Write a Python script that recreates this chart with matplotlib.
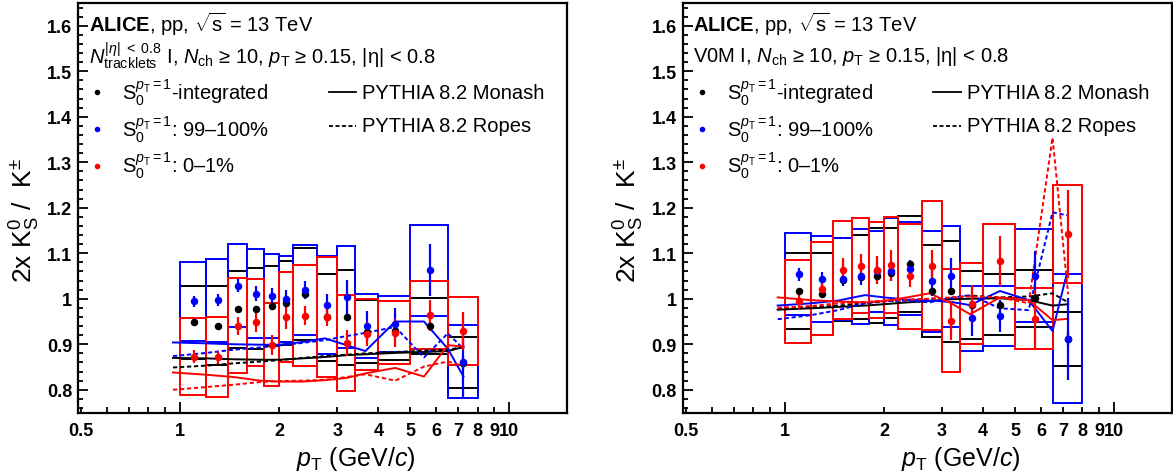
import matplotlib
matplotlib.use("Agg")
import matplotlib.pyplot as plt
from matplotlib.patches import Rectangle
from matplotlib.ticker import FixedLocator, FixedFormatter, MultipleLocator, FormatStrFormatter

plt.rcParams['font.family'] = ['Liberation Sans', 'DejaVu Sans']
plt.rcParams['mathtext.fontset'] = 'custom'
plt.rcParams['mathtext.rm'] = 'Liberation Sans'
plt.rcParams['mathtext.it'] = 'Liberation Sans:italic'
plt.rcParams['mathtext.bf'] = 'Liberation Sans:bold'
plt.rcParams['mathtext.sf'] = 'Liberation Sans'

# pT binning of the data
pt_edges = [1.0, 1.2, 1.4, 1.6, 1.8, 2.0, 2.2, 2.6, 3.0, 3.4, 4.0, 5.0, 6.5, 8.0]
pt_centers = [1.1, 1.3, 1.5, 1.7, 1.9, 2.1, 2.4, 2.8, 3.2, 3.7, 4.5, 5.75, 7.25]

# ---- left panel: N_tracklets estimator ----
trk_int = [0.948, 0.941, 0.977, 0.978, 0.984, 0.991, 1.011, 0.959, 0.959, 0.928, 0.930, 0.940, 0.859]
trk_int_stat = [0.004, 0.004, 0.004, 0.004, 0.005, 0.005, 0.005, 0.006, 0.007, 0.007, 0.008, 0.01, 0.015]
trk_int_sys = [0.080, 0.087, 0.085, 0.089, 0.088, 0.093, 0.101, 0.096, 0.104, 0.070, 0.064, 0.061, 0.056]

trk_hi = [0.994, 0.997, 1.029, 1.011, 1.006, 1.000, 1.019, 0.986, 1.004, 0.940, 0.944, 1.063, 0.862]
trk_hi_stat = [0.013, 0.013, 0.015, 0.016, 0.018, 0.02, 0.02, 0.025, 0.038, 0.033, 0.035, 0.058, 0.08]
trk_hi_sys = [0.087, 0.091, 0.092, 0.098, 0.092, 0.094, 0.099, 0.107, 0.113, 0.070, 0.061, 0.100, 0.081]

trk_lo = [0.873, 0.871, 0.941, 0.948, 0.899, 0.959, 0.963, 0.960, 0.903, 0.922, 0.925, 0.964, 0.929]
trk_lo_stat = [0.015, 0.015, 0.02, 0.022, 0.022, 0.025, 0.02, 0.02, 0.028, 0.026, 0.03, 0.034, 0.042]
trk_lo_sys = [0.084, 0.088, 0.104, 0.095, 0.091, 0.099, 0.111, 0.131, 0.106, 0.078, 0.069, 0.075, 0.075]

# ---- right panel: V0M estimator ----
v0m_int = [1.017, 1.010, 1.042, 1.048, 1.051, 1.057, 1.076, 1.017, 1.016, 0.986, 0.987, 1.001, 0.912]
v0m_int_stat = [0.004, 0.004, 0.004, 0.004, 0.005, 0.005, 0.005, 0.006, 0.007, 0.007, 0.008, 0.01, 0.015]
v0m_int_sys = [0.083, 0.090, 0.091, 0.092, 0.104, 0.099, 0.106, 0.101, 0.110, 0.074, 0.067, 0.063, 0.060]

v0m_hi = [1.054, 1.043, 1.043, 1.049, 1.060, 1.060, 1.066, 1.038, 1.049, 0.957, 0.962, 1.051, 0.912]
v0m_hi_stat = [0.014, 0.016, 0.016, 0.018, 0.021, 0.02, 0.02, 0.033, 0.04, 0.038, 0.035, 0.055, 0.09]
v0m_hi_sys = [0.090, 0.095, 0.090, 0.104, 0.090, 0.117, 0.102, 0.112, 0.111, 0.072, 0.066, 0.102, 0.142]

v0m_lo = [0.994, 1.022, 1.063, 1.073, 1.063, 1.074, 1.049, 1.073, 0.952, 0.989, 1.083, 0.956, 1.142]
v0m_lo_stat = [0.016, 0.02, 0.026, 0.025, 0.03, 0.034, 0.024, 0.035, 0.042, 0.042, 0.055, 0.064, 0.097]
v0m_lo_sys = [0.092, 0.102, 0.108, 0.104, 0.106, 0.106, 0.115, 0.142, 0.114, 0.089, 0.081, 0.067, 0.108]

# ---- PYTHIA 8.2 curves ----
mc_pt = [0.95, 1.2, 1.45, 1.75, 2.0, 2.35, 2.75, 3.2, 3.65, 4.5, 5.5, 6.5, 7.25]

trk_monash_int = [0.870, 0.869, 0.867, 0.866, 0.866, 0.869, 0.872, 0.876, 0.878, 0.881, 0.883, 0.885, 0.894]
trk_ropes_int = [0.849, 0.853, 0.858, 0.862, 0.865, 0.870, 0.874, 0.877, 0.880, 0.883, 0.886, 0.888, 0.894]
trk_monash_hi = [0.904, 0.902, 0.900, 0.899, 0.899, 0.905, 0.913, 0.898, 0.885, 0.950, 0.950, 0.890, 0.829]
trk_ropes_hi = [0.874, 0.881, 0.888, 0.893, 0.897, 0.903, 0.909, 0.918, 0.925, 0.938, 0.871, 0.924, 0.890]
trk_monash_lo = [0.838, 0.833, 0.828, 0.820, 0.818, 0.818, 0.821, 0.826, 0.836, 0.848, 0.829, 0.898, 0.895]
trk_ropes_lo = [0.800, 0.806, 0.811, 0.817, 0.819, 0.820, 0.822, 0.828, 0.834, 0.820, 0.851, 0.862, 0.852]

v0m_monash_int = [0.976, 0.979, 0.982, 0.985, 0.988, 0.992, 0.995, 0.999, 1.000, 1.001, 0.997, 0.985, 0.988]
v0m_ropes_int = [0.978, 0.981, 0.985, 0.990, 0.994, 0.997, 1.000, 1.002, 1.007, 1.003, 1.005, 1.012, 0.992]
v0m_monash_hi = [0.985, 0.990, 0.996, 1.008, 1.003, 0.998, 0.996, 0.993, 0.986, 1.017, 0.997, 0.929, 1.067]
v0m_ropes_hi = [0.955, 0.964, 0.975, 0.990, 0.995, 0.996, 0.992, 1.002, 1.008, 0.979, 0.975, 1.190, 1.183]
v0m_monash_lo = [1.003, 0.997, 0.994, 0.992, 0.995, 1.003, 1.012, 0.990, 0.966, 1.003, 0.997, 0.953, 0.956]
v0m_ropes_lo = [0.980, 0.984, 0.990, 0.993, 0.996, 0.998, 1.000, 1.003, 1.005, 1.003, 0.990, 1.354, 1.010]

BLUE = '#0000ff'
RED = '#ff0000'
BLACK = '#000000'
DASH = (0, (2.2, 1.4))
FS = 14.5


def draw_panel(ax, data, models, header2):
    # systematic boxes
    for vals, stat, sys_, col in data:
        for i in range(len(vals)):
            lo_e, hi_e = pt_edges[i], pt_edges[i + 1]
            ax.add_patch(Rectangle((lo_e, vals[i] - sys_[i]), hi_e - lo_e, 2 * sys_[i],
                                   fill=False, ec=col, lw=1.4, zorder=2))
    # model curves
    for yv, col, ls in models:
        ax.plot(mc_pt, yv, color=col, lw=1.4, ls=ls, zorder=3)
    # data points
    for vals, stat, sys_, col in data:
        ax.errorbar(pt_centers, vals, yerr=stat, fmt='o', ms=4.4, color=col,
                    elinewidth=1.6, capsize=0, zorder=4)

    ax.set_xscale('log')
    ax.set_xlim(0.49, 15)
    ax.set_ylim(0.75, 1.65)

    ax.xaxis.set_major_locator(FixedLocator([1, 10]))
    ax.xaxis.set_major_formatter(FixedFormatter(['1', '10']))
    minor = [0.5, 0.6, 0.7, 0.8, 0.9, 2, 3, 4, 5, 6, 7, 8, 9]
    minor_lab = ['0.5', '', '', '', '', '2', '3', '4', '5', '6', '7', '8', '9']
    ax.xaxis.set_minor_locator(FixedLocator(minor))
    ax.xaxis.set_minor_formatter(FixedFormatter(minor_lab))
    ax.yaxis.set_major_locator(MultipleLocator(0.1))
    ax.yaxis.set_minor_locator(MultipleLocator(0.02))
    ax.yaxis.set_major_formatter(FormatStrFormatter('%g'))
    ax.set_yticks([0.8, 0.9, 1.0, 1.1, 1.2, 1.3, 1.4, 1.5, 1.6])

    ax.tick_params(axis='x', which='major', direction='in', length=8, width=1.3, pad=6.5,
                   labelsize=13)
    ax.tick_params(axis='x', which='minor', direction='in', length=4, width=1.3, pad=6.5,
                   labelsize=13)
    ax.tick_params(axis='y', which='major', direction='in', length=7, width=1.3, pad=4.5,
                   labelsize=13)
    ax.tick_params(axis='y', which='minor', direction='in', length=3.5, width=1.3)
    for lab in ax.get_xticklabels(which='both') + ax.get_yticklabels():
        lab.set_fontweight('bold')
    for sp in ax.spines.values():
        sp.set_linewidth(1.6)

    ax.text(0.568, -0.11, r'$p_{\mathrm{T}}$ (GeV/$c$)', transform=ax.transAxes,
            ha='center', va='center', fontsize=18)
    ax.text(-0.11, 0.47, r'2x K$_{\mathrm{S}}^{0}$ /  K$^{\pm}$', transform=ax.transAxes,
            ha='center', va='center', rotation=90, fontsize=19)

    ax.text(0.021, 0.949, r'$\mathbf{ALICE}$, pp, $\sqrt{\mathrm{s}}$ = 13 TeV',
            transform=ax.transAxes, ha='left', va='center', fontsize=FS)
    ax.text(0.021, 0.871, header2, transform=ax.transAxes, ha='left', va='center',
            fontsize=FS)

    leg_y = [0.782, 0.692, 0.603]
    leg_txt = [r'$\mathrm{S}_{0}^{p_{\mathrm{T}}=1}$-integrated',
               r'$\mathrm{S}_{0}^{p_{\mathrm{T}}=1}$: 99–100%',
               r'$\mathrm{S}_{0}^{p_{\mathrm{T}}=1}$: 0–1%']
    for yy, txt, col in zip(leg_y, leg_txt, [BLACK, BLUE, RED]):
        ax.plot([0.039], [yy], 'o', ms=3, color=col, transform=ax.transAxes)
        ax.text(0.09, yy, txt, transform=ax.transAxes, ha='left', va='center', fontsize=FS)
    ax.plot([0.512, 0.568], [0.782, 0.782], color=BLACK, lw=1.3, transform=ax.transAxes)
    ax.plot([0.512, 0.568], [0.700, 0.700], color=BLACK, lw=1.3, ls=DASH,
            transform=ax.transAxes)
    ax.text(0.58, 0.782, 'PYTHIA 8.2 Monash', transform=ax.transAxes, ha='left',
            va='center', fontsize=FS)
    ax.text(0.58, 0.700, 'PYTHIA 8.2 Ropes', transform=ax.transAxes, ha='left',
            va='center', fontsize=FS)


fig = plt.figure(figsize=(11.73, 4.77), dpi=100)
ax1 = fig.add_axes([0.0668, 0.1331, 0.4169, 0.8585])
ax2 = fig.add_axes([0.5823, 0.1331, 0.4169, 0.8585])

draw_panel(ax1,
           [(trk_int, trk_int_stat, trk_int_sys, BLACK),
            (trk_hi, trk_hi_stat, trk_hi_sys, BLUE),
            (trk_lo, trk_lo_stat, trk_lo_sys, RED)],
           [(trk_monash_int, BLACK, '-'), (trk_ropes_int, BLACK, DASH),
            (trk_monash_hi, BLUE, '-'), (trk_ropes_hi, BLUE, DASH),
            (trk_monash_lo, RED, '-'), (trk_ropes_lo, RED, DASH)],
           r'$N_{\mathrm{tracklets}}^{|\eta|\ <\ 0.8}$ I, $N_{\mathrm{ch}}$ ≥ 10, '
           r'$p_{\mathrm{T}}$ ≥ 0.15, |η| < 0.8')
draw_panel(ax2,
           [(v0m_int, v0m_int_stat, v0m_int_sys, BLACK),
            (v0m_hi, v0m_hi_stat, v0m_hi_sys, BLUE),
            (v0m_lo, v0m_lo_stat, v0m_lo_sys, RED)],
           [(v0m_monash_int, BLACK, '-'), (v0m_ropes_int, BLACK, DASH),
            (v0m_monash_hi, BLUE, '-'), (v0m_ropes_hi, BLUE, DASH),
            (v0m_monash_lo, RED, '-'), (v0m_ropes_lo, RED, DASH)],
           r'V0M I, $N_{\mathrm{ch}}$ ≥ 10, $p_{\mathrm{T}}$ ≥ 0.15, |η| < 0.8')

fig.savefig('out.png', dpi=100)
